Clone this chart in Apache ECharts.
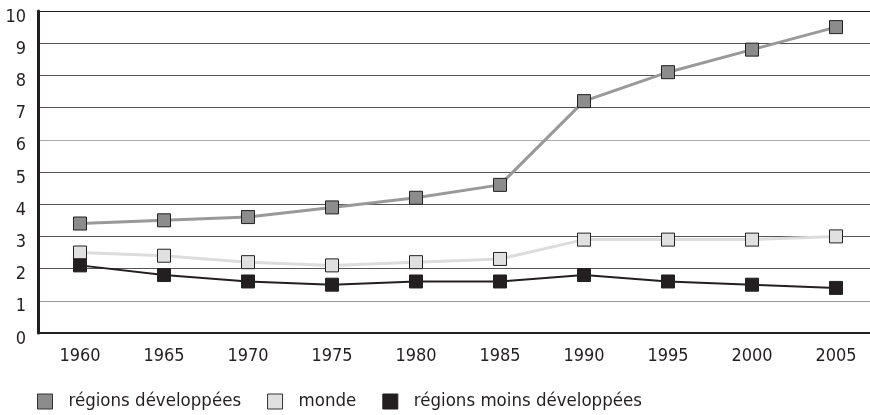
<!DOCTYPE html>
<html>
<head>
<meta charset="utf-8">
<script src="https://cdn.jsdelivr.net/npm/echarts@6/dist/echarts.min.js"></script>
<style>
  html, body { margin: 0; padding: 0; background: #fff; overflow: hidden; }
  /* a bit wider than the window: the plot runs past the right edge, like the original */
  #chart { width: 878px; height: 415px; }
</style>
</head>
<body>
<div id="chart"></div>
<script>
const years = ['1960', '1965', '1970', '1975', '1980', '1985', '1990', '1995', '2000', '2005']
const developpees = [3.4, 3.5, 3.6, 3.9, 4.2, 4.6, 7.2, 8.1, 8.8, 9.5]
const monde = [2.5, 2.4, 2.2, 2.1, 2.2, 2.3, 2.9, 2.9, 2.9, 3.0]
const moinsDeveloppees = [2.1, 1.8, 1.6, 1.5, 1.6, 1.6, 1.8, 1.6, 1.5, 1.4]

const font = '"Liberation Sans Narrow", "DejaVu Sans Condensed", "Liberation Sans", sans-serif'

function mkSeries (name, data, fill, line, lineWidth) {
  return {
    name: name,
    type: 'line',
    data: data,
    symbol: 'rect',
    symbolSize: 13,
    z: 3,
    lineStyle: { color: line, width: lineWidth },
    itemStyle: { color: fill, borderColor: '#222', borderWidth: 1 },
    emphasis: { disabled: true }
  }
}

const chart = echarts.init(document.getElementById('chart'), null, { renderer: 'canvas' })
chart.setOption({
  animation: false,
  textStyle: { fontFamily: font },
  grid: { left: 38, right: 0, top: 11, bottom: 82 },
  legend: {
    left: 37,
    bottom: 4,
    padding: 0,
    icon: 'rect',
    itemWidth: 15,
    itemHeight: 15,
    itemGap: 26,
    textStyle: { fontSize: 18.5, color: '#231f20', fontFamily: font, padding: [0, 0, 0, 11] },
    data: [
      { name: 'régions développées', itemStyle: { color: '#8c8c8c', borderColor: '#333', borderWidth: 1 } },
      { name: 'monde', itemStyle: { color: '#e0e0e0', borderColor: '#333', borderWidth: 1 } },
      { name: 'régions moins développées', itemStyle: { color: '#231f20', borderColor: '#231f20', borderWidth: 1 } }
    ]
  },
  xAxis: {
    type: 'category',
    data: years,
    boundaryGap: true,
    axisLine: { lineStyle: { color: '#231f20', width: 2 } },
    axisTick: { inside: true, length: 7, lineStyle: { color: '#231f20', width: 2 } },
    axisLabel: { color: '#231f20', fontSize: 18, margin: 14, fontFamily: font }
  },
  yAxis: {
    type: 'value',
    min: 0,
    max: 10,
    interval: 1,
    axisLine: { show: true, lineStyle: { color: '#231f20', width: 3 } },
    axisTick: { show: false },
    axisLabel: { color: '#231f20', fontSize: 18, margin: 12, verticalAlign: 'top', lineHeight: 18, padding: [-3, 0, 0, 0], fontFamily: font },
    splitLine: {
      lineStyle: {
        color: ['#555', '#999', '#555', '#555', '#555', '#555', '#aaa', '#555', '#555', '#555', '#231f20'],
        width: 1
      }
    }
  },
  series: [
    mkSeries('régions développées', developpees, '#8c8c8c', '#999', 3),
    mkSeries('monde', monde, '#e0e0e0', '#dcdcdc', 3),
    mkSeries('régions moins développées', moinsDeveloppees, '#231f20', '#231f20', 2)
  ]
})
</script>
</body>
</html>
